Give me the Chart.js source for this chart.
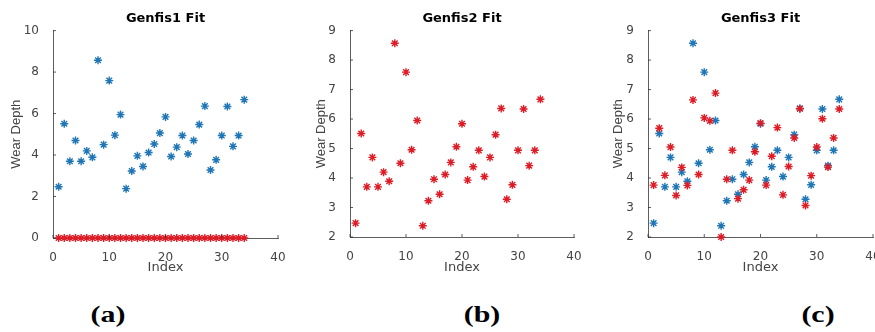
<!DOCTYPE html>
<html>
<head>
<meta charset="utf-8">
<script src="https://cdn.jsdelivr.net/npm/chart.js@4"></script>
<style>
  body { margin: 0; width: 875px; height: 332px; overflow: hidden; background: #fff; position: relative; }
  .panel { position: absolute; top: 0; height: 290px; }
  .cap { position: absolute; top: 302px; font: bold 23px "Liberation Serif", "Times New Roman", serif; color: #000;
         transform: translateX(-50%) scaleX(1.3); }
</style>
</head>
<body>
<div class="panel" id="p1" style="left:0;width:300px"><canvas id="c1"></canvas></div>
<div class="panel" id="p2" style="left:290px;width:300px"><canvas id="c2"></canvas></div>
<div class="panel" id="p3" style="left:585px;width:310px"><canvas id="c3"></canvas></div>
<div class="cap" style="left:108px">(a)</div>
<div class="cap" style="left:482px">(b)</div>
<div class="cap" style="left:818px">(c)</div>
<script>
// sample index
const idx = [1,2,3,4,5,6,7,8,9,10,11,12,13,14,15,16,17,18,19,20,21,22,23,24,25,26,27,28,29,30,31,32,33,34];
// measured wear depth
const actual = [2.47,5.51,3.70,4.70,3.70,4.20,3.89,8.57,4.50,7.59,4.96,5.95,2.38,3.23,3.96,3.45,4.12,
                4.53,5.06,5.84,3.93,4.38,4.94,4.05,4.70,5.47,6.36,3.28,3.77,4.94,6.34,4.42,4.94,6.67];
// model outputs
const genfis1 = [0,0,0,0,0,0,0,0,0,0,0,0,0,0,0,0,0,0,0,0,0,0,0,0,0,0,0,0,0,0,0,0,0,0];
const genfis2 = [2.47,5.51,3.70,4.70,3.70,4.20,3.89,8.57,4.50,7.59,4.96,5.95,2.38,3.23,3.96,3.45,4.12,
                 4.53,5.06,5.84,3.93,4.38,4.94,4.05,4.70,5.47,6.36,3.28,3.77,4.94,6.34,4.42,4.94,6.67];
const genfis3 = [3.76,5.69,4.09,5.05,3.41,4.36,3.75,6.65,4.12,6.04,5.94,6.88,2.00,3.96,4.94,3.30,3.60,
                 3.93,4.89,5.86,3.76,4.74,5.71,3.43,4.39,5.36,6.35,3.07,4.08,5.05,6.01,4.37,5.36,6.34];
const xTicks = [0, 10, 20, 30, 40];
const yTicks1 = [0, 2, 4, 6, 8, 10];
const yTicks23 = [2, 3, 4, 5, 6, 7, 8, 9];

const BLUE = 'rgb(30,118,182)';
const RED = 'rgb(222,28,38)';
const AXIS = '#333';
const TXT = '#444';

function pts(ys) {
    return idx.map((x, i) => ({ x: x, y: ys[i] }));
}

// matlab style ticks pointing into the plot
const innerTicks = {
    id: 'innerTicks',
    afterDraw(chart) {
        const ctx = chart.ctx, a = chart.chartArea;
        ctx.save();
        ctx.strokeStyle = AXIS;
        ctx.lineWidth = 0.8;
        ctx.beginPath();
        chart.scales.x.ticks.forEach(t => {
            const px = chart.scales.x.getPixelForValue(t.value);
            ctx.moveTo(px, a.bottom); ctx.lineTo(px, a.bottom - 3);
        });
        chart.scales.y.ticks.forEach(t => {
            const py = chart.scales.y.getPixelForValue(t.value);
            ctx.moveTo(a.left, py); ctx.lineTo(a.left + 3, py);
        });
        ctx.stroke();
        ctx.restore();
    }
};

function makeChart(id, title, sets, yTicks, opt) {
    const ds = sets.map(s => ({
        data: pts(s.ys),
        borderColor: s.color,
        backgroundColor: s.color,
        pointStyle: 'star',
        pointRadius: 4,
        pointBorderWidth: 1.4,
        showLine: false,
        clip: false,
        order: s.order
    }));
    new Chart(document.getElementById(id), {
        type: 'scatter',
        data: { datasets: ds },
        options: {
            responsive: true,
            maintainAspectRatio: false,
            animation: false,
            events: [],
            layout: { padding: { left: 0, right: opt.padRight, top: 0, bottom: 0 } },
            plugins: {
                legend: { display: false },
                tooltip: { enabled: false },
                title: {
                    display: true, text: title, fullSize: false, color: '#000',
                    font: { family: 'DejaVu Sans', size: 13, weight: 'bold' },
                    padding: { top: 11, bottom: 4 }
                }
            },
            scales: {
                x: {
                    type: 'linear', min: 0, max: 40,
                    afterBuildTicks: s => { s.ticks = xTicks.map(v => ({ value: v })); },
                    grid: { display: false },
                    border: { display: true, color: AXIS, width: 0.8 },
                    ticks: { color: TXT, padding: 5, maxRotation: 0, font: { family: 'DejaVu Sans', size: 12 } },
                    title: { display: true, text: 'Index', color: TXT, padding: { top: 0, bottom: 15 },
                             font: { family: 'DejaVu Sans', size: 13 } },
                    afterFit: s => { s.height = opt.xHeight; }
                },
                y: {
                    type: 'linear', min: yTicks[0], max: yTicks[yTicks.length - 1],
                    afterBuildTicks: s => { s.ticks = yTicks.map(v => ({ value: v })); },
                    grid: { display: false },
                    border: { display: true, color: AXIS, width: 0.8 },
                    ticks: { color: TXT, padding: 6, font: { family: 'DejaVu Sans', size: 12 } },
                    title: { display: true, text: 'Wear Depth', color: TXT, padding: { top: opt.yTitlePad, bottom: 0 },
                             font: { family: 'Liberation Sans', size: 13 } },
                    afterFit: s => { s.width = opt.yWidth; }
                }
            }
        },
        plugins: [innerTicks]
    });
}

makeChart('c1', 'Genfis1 Fit',
    [{ ys: actual, color: BLUE, order: 1 }, { ys: genfis1, color: RED, order: 0 }],
    yTicks1, { yWidth: 53, padRight: 22, xHeight: 52, yTitlePad: 9 });
makeChart('c2', 'Genfis2 Fit',
    [{ ys: genfis2, color: RED, order: 0 }],
    yTicks23, { yWidth: 60, padRight: 16, xHeight: 53, yTitlePad: 24 });
makeChart('c3', 'Genfis3 Fit',
    [{ ys: actual, color: BLUE, order: 1 }, { ys: genfis3, color: RED, order: 0 }],
    yTicks23, { yWidth: 63, padRight: 22, xHeight: 53, yTitlePad: 26 });
</script>
</body>
</html>
